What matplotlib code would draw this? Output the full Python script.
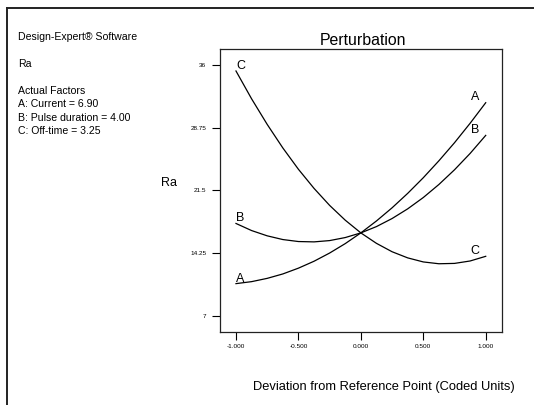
import matplotlib
matplotlib.use("Agg")
import matplotlib.pyplot as plt
from matplotlib.lines import Line2D

plt.rcParams['font.family'] = ['Liberation Sans', 'DejaVu Sans']

# Данные: отклонение от опорной точки (кодированные единицы) и отклик Ra
deviation = [-1.0, -0.875, -0.75, -0.625, -0.5, -0.375, -0.25, -0.125, 0.0,
             0.125, 0.25, 0.375, 0.5, 0.625, 0.75, 0.875, 1.0]
ra_A = [10.71, 10.94, 11.32, 11.83, 12.50, 13.30, 14.25, 15.34, 16.58,
        17.96, 19.48, 21.15, 22.96, 24.92, 27.01, 29.26, 31.64]
ra_B = [17.67, 16.85, 16.24, 15.81, 15.58, 15.54, 15.69, 16.04, 16.58,
        17.31, 18.24, 19.36, 20.67, 22.18, 23.88, 25.77, 27.86]
ra_C = [35.31, 32.09, 29.13, 26.41, 23.94, 21.73, 19.76, 18.05, 16.58,
        15.37, 14.40, 13.69, 13.22, 13.01, 13.05, 13.33, 13.87]
factor_names = ['A', 'B', 'C']
y_ticks = [7, 14.25, 21.5, 28.75, 36]
y_tick_labels = ['7', '14.25', '21.5', '28.75', '36']
x_ticks = [-1.0, -0.5, 0.0, 0.5, 1.0]
x_tick_labels = ['-1.000', '-0.500', '0.000', '0.500', '1.000']
info_lines = ['Design-Expert® Software', 'Ra', 'Actual Factors',
              'A: Current = 6.90', 'B: Pulse duration = 4.00', 'C: Off-time = 3.25']

W, H = 534, 405
fig = plt.figure(figsize=(W / 100, H / 100), dpi=100)

# Рамка слева и сверху
fig.add_artist(Line2D([7 / W, 7 / W], [0, 1 - 8 / H], color='#222222', lw=1.4))
fig.add_artist(Line2D([7 / W, 1], [1 - 8 / H, 1 - 8 / H], color='#222222', lw=1.4))

# Область графика
left, right, top, bottom = 220, 501.7, 49.2, 332.3
ax = fig.add_axes([left / W, 1 - bottom / H, (right - left) / W, (bottom - top) / H])
ax.set_xlim(-1.128, 1.128)
ax.set_ylim(5.08, 37.83)

for vals in (ra_A, ra_B, ra_C):
    ax.plot(deviation, vals, color='black', lw=0.9)

# Буквы факторов у концов кривых
for name, vals in zip(factor_names, (ra_A, ra_B, ra_C)):
    ax.annotate(name, (deviation[0], vals[0]), xytext=(3.3, 3.6),
                textcoords='offset points', ha='center', va='center', fontsize=9)
    ax.annotate(name, (deviation[-1], vals[-1]), xytext=(-7.6, 3.8),
                textcoords='offset points', ha='center', va='center', fontsize=9)

ax.set_xticks(x_ticks)
ax.set_xticklabels(x_tick_labels)
ax.set_yticks(y_ticks)
ax.set_yticklabels(y_tick_labels)
ax.tick_params(axis='both', direction='out', length=6, width=0.8, labelsize=4.6)
ax.tick_params(axis='y', pad=4)
ax.tick_params(axis='x', pad=2.5)
for sp in ax.spines.values():
    sp.set_linewidth(0.9)
    sp.set_color('#222222')

# Подписи
fig.text(363.4 / W, 1 - 40.7 / H, 'Perturbation', ha='center', va='center', fontsize=11.4)
fig.text(168.6 / W, 1 - 183.3 / H, 'Ra', ha='center', va='center', fontsize=9)
fig.text(384 / W, 1 - 387 / H, 'Deviation from Reference Point (Coded Units)',
         ha='center', va='center', fontsize=9.3)

info_y = [37, 64.3, 91, 104.3, 118.3, 131.3]
for line, yy in zip(info_lines, info_y):
    fig.text(18 / W, 1 - yy / H, line, ha='left', va='center', fontsize=7.6)

fig.savefig('out.png', dpi=100)
